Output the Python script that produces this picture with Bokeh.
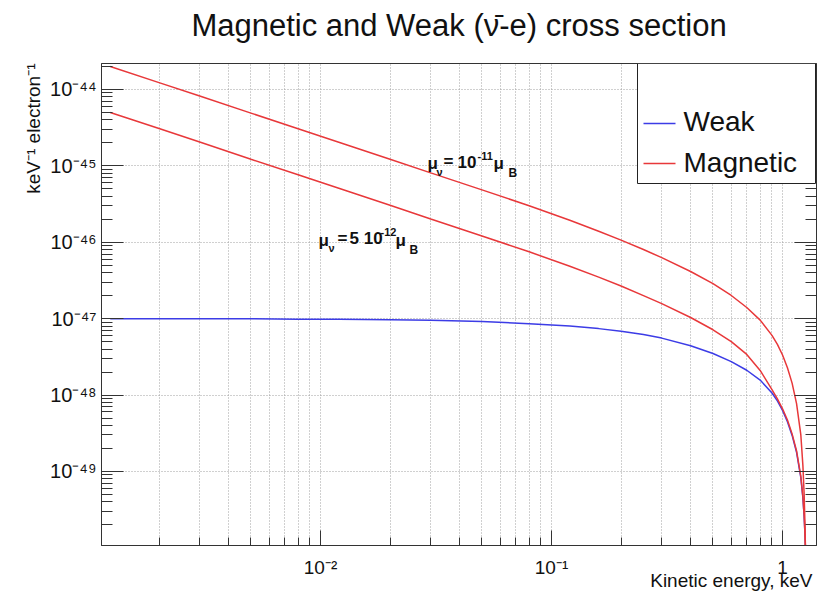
import math
from bokeh.plotting import figure
from bokeh.models import (FixedTicker, CustomJSTickFormatter, LogAxis, Label, Title,
                          Range1d, BoxAnnotation, ColumnDataSource)
from bokeh.embed import file_html
from bokeh.resources import INLINE

# ---------------- data ----------------
energy_keV = [0.00123, 0.002, 0.003, 0.005, 0.008, 0.012, 0.02, 0.03, 0.05, 0.08,
              0.12, 0.16, 0.2, 0.25, 0.3, 0.4, 0.5, 0.6, 0.7, 0.8, 0.9, 0.95,
              1.0, 1.05, 1.1, 1.15, 1.2, 1.225, 1.24, 1.25, 1.255, 1.26]
weak = [1.0e-47, 1.0e-47, 1.0e-47, 9.95e-48, 9.85e-48, 9.8e-48, 9.7e-48, 9.55e-48, 9.2e-48, 8.6e-48,
        8.0e-48, 7.4e-48, 6.86e-48, 6.2e-48, 5.56e-48, 4.42e-48, 3.5e-48, 2.74e-48, 2.11e-48, 1.57e-48, 1.064e-48, 8.38e-49,
        6.28e-49, 4.46e-49, 2.96e-49, 1.78e-49, 8.3e-50, 4.5e-50, 2.6e-50, 1.54e-50, 1.1e-50, 6e-51]
magnetic_mu_1e11 = [2.0e-44, 1.23e-44, 8.2e-45, 4.9e-45, 3.06e-45, 2.04e-45, 1.22e-45, 8.1e-46, 4.85e-46, 3.0e-46,
                    1.937e-46, 1.395e-46, 1.067e-46, 8.03e-47, 6.28e-47, 4.14e-47, 2.865e-47, 2.01e-47, 1.4e-47, 9.57e-48, 6.04e-48, 4.61e-48,
                    3.34e-48, 2.28e-48, 1.43e-48, 7.7e-49, 3.0e-49, 1.19e-49, 5.1e-50, 2.1e-50, 1.2e-50, 5e-51]
magnetic_mu_5e12 = [5.0e-45, 3.08e-45, 2.05e-45, 1.22e-45, 7.65e-46, 5.1e-46, 3.05e-46, 2.02e-46, 1.21e-46, 7.5e-47,
                    4.84e-47, 3.49e-47, 2.67e-47, 2.0e-47, 1.57e-47, 1.035e-47, 7.15e-48, 5.0e-48, 3.4e-48, 2.1e-48, 1.18e-48, 8.9e-49,
                    6.6e-49, 4.7e-49, 3.1e-49, 1.85e-49, 8.6e-50, 4.6e-50, 2.65e-50, 1.57e-50, 1.12e-50, 6e-51]

x_major_ticks = [1e-2, 1e-1, 1.0]
y_major_ticks = [1e-49, 1e-48, 1e-47, 1e-46, 1e-45, 1e-44]
legend_labels = ["Weak", "Magnetic"]
title_text = "Magnetic and Weak (\u03bd\u0304-e) cross section"
x_title = "Kinetic energy, keV"
y_title = "keV\u207b\u00b9 electron\u207b\u00b9"

# ---------------- layout ----------------
LX0, LX1 = -2.948, 0.147      # log10 of x range
LY0, LY1 = -49.97, -43.66     # log10 of y range
FL, FR, FT, FB = 101, 816, 63, 545   # frame edges in the picture (px)
W, H = 830, 600
FONT = "Liberation Sans"
INK = "#111111"
AX = "#333333"

def dx(px):
    return 10 ** (LX0 + (px - FL) / (FR - FL) * (LX1 - LX0))

def dy(py):
    return 10 ** (LY1 - (py - FT) / (FB - FT) * (LY1 - LY0))

p = figure(width=W, height=H, x_axis_type="log", y_axis_type="log",
           x_range=Range1d(10 ** LX0, 10 ** LX1), y_range=Range1d(10 ** LY0, 10 ** LY1),
           output_backend="svg", toolbar_location=None, title=None,
           min_border_left=FL, min_border_right=W - FR,
           min_border_top=FT, min_border_bottom=H - FB)
p.background_fill_color = "white"
p.border_fill_color = "white"
p.outline_line_color = AX
p.outline_line_width = 1

x_minor = [k * 10.0 ** e for e in (-3, -2, -1, 0) for k in range(2, 10)]
y_minor = [k * 10.0 ** e for e in range(-50, -43) for k in range(2, 10)]
xticker = FixedTicker(ticks=x_major_ticks, minor_ticks=x_minor)
yticker = FixedTicker(ticks=y_major_ticks, minor_ticks=y_minor)

fmt_code = """
const sup = {"-":"\u207b","0":"\u2070","1":"\u00b9","2":"\u00b2","3":"\u00b3","4":"\u2074",
             "5":"\u2075","6":"\u2076","7":"\u2077","8":"\u2078","9":"\u2079"};
const e = Math.round(Math.log10(tick));
if (e === 0) return "1";
return "10" + String(e).split("").map(c => sup[c]).join("");
"""
fmt = CustomJSTickFormatter(code=fmt_code)
blank_fmt = CustomJSTickFormatter(code="return '';")

xa = p.xaxis[0]
xa.ticker = xticker
xa.formatter = fmt
xa.major_tick_in = 15
xa.major_tick_out = 0
xa.minor_tick_in = 8
xa.minor_tick_out = 0
xa.major_label_standoff = 11
xa.major_label_text_font = FONT
xa.major_label_text_font_size = "19px"
xa.major_label_text_color = INK
xa.axis_line_color = AX
xa.major_tick_line_color = AX
xa.minor_tick_line_color = AX

ya = p.yaxis[0]
ya.ticker = yticker
ya.formatter = fmt
ya.major_tick_in = 22
ya.major_tick_out = 0
ya.minor_tick_in = 11
ya.minor_tick_out = 0
ya.major_label_standoff = 5
ya.major_label_text_font = FONT
ya.major_label_text_font_size = "20px"
ya.major_label_text_color = INK
ya.axis_line_color = AX
ya.major_tick_line_color = AX
ya.minor_tick_line_color = AX

ra = LogAxis(ticker=yticker, formatter=blank_fmt,
             major_tick_in=22, major_tick_out=0, minor_tick_in=11, minor_tick_out=0,
             major_label_standoff=0, major_label_text_font_size="0px",
             axis_line_color=AX, major_tick_line_color=AX, minor_tick_line_color=AX)
p.add_layout(ra, "right")

# invisible spacer axis between the frame and the main title
spacer = LogAxis(ticker=FixedTicker(ticks=[0.1], minor_ticks=[]), formatter=blank_fmt,
                 major_tick_in=0, major_tick_out=21,
                 minor_tick_in=0, minor_tick_out=0, major_label_standoff=0,
                 major_label_text_font_size="0px", axis_line_color=None,
                 major_tick_line_color=None, minor_tick_line_color=None)
p.add_layout(spacer, "above")

p.xgrid.ticker = xticker
p.ygrid.ticker = yticker
for g in (p.xgrid[0], p.ygrid[0]):
    g.grid_line_color = "#a0a0a0"
    g.grid_line_dash = "1 2"
    g.grid_line_width = 1
p.xgrid.minor_grid_line_color = "#a0a0a0"
p.xgrid.minor_grid_line_dash = "1 2"
p.ygrid.minor_grid_line_color = None

# titles
p.add_layout(Title(text=title_text, align="center", vertical_align="bottom",
                   text_font=FONT, text_font_size="31px",
                   text_font_style="normal", text_color=INK, standoff=0), "above")
p.add_layout(Title(text=x_title, align="right", vertical_align="top", offset=4,
                   text_font=FONT, text_font_size="19px",
                   text_font_style="normal", text_color=INK, standoff=-22), "below")
p.add_layout(Title(text=y_title, align="right", text_font=FONT, text_font_size="19px",
                   text_font_style="normal", text_color=INK, standoff=8), "left")

src = ColumnDataSource(dict(energy=energy_keV, weak=weak,
                            mag1=magnetic_mu_1e11, mag2=magnetic_mu_5e12))
RED = "#e8383a"
BLUE = "#3c3ce6"
p.line("energy", "weak", source=src, line_color=BLUE, line_width=1.5)
p.line("energy", "mag1", source=src, line_color=RED, line_width=1.5)
p.line("energy", "mag2", source=src, line_color=RED, line_width=1.5)


def add_text(text, px, py, size, align="left", bold=False):
    p.add_layout(Label(x=dx(px), y=dy(py), text=text, text_font=FONT,
                       text_font_size=f"{size}px", text_align=align,
                       text_baseline="middle",
                       text_font_style="bold" if bold else "normal",
                       text_color=INK))


# curve annotations (py = vertical centre of the glyphs)
add_text("\u03bc", 427, 163, 17, bold=True)
add_text("\u03bd", 436, 171, 11, bold=True)
add_text("=", 443, 161, 17, bold=True)
add_text("10", 457, 161, 17, bold=True)
add_text("-11", 477, 155, 11, bold=True)
add_text("\u03bc", 493, 163, 17, bold=True)
add_text("B", 508, 172, 12, bold=True)

add_text("\u03bc", 318, 240, 17, bold=True)
add_text("\u03bd", 328, 247, 11, bold=True)
add_text("=", 337, 238, 17, bold=True)
add_text("5 10", 349, 238, 17, bold=True)
add_text("-12", 380, 231, 11, bold=True)
add_text("\u03bc", 395, 240, 17, bold=True)
add_text("B", 409, 249, 12, bold=True)

# legend
p.add_layout(BoxAnnotation(left=dx(637), right=dx(815), top=dy(63), bottom=dy(183),
                           fill_color="white", fill_alpha=1.0,
                           line_color="#222222", line_width=1, line_alpha=1.0))
leg = ColumnDataSource(dict(x0=[dx(643), dx(643)], x1=[dx(675), dx(675)],
                            y=[dy(123), dy(163)], c=[BLUE, RED]))
p.segment(x0="x0", y0="y", x1="x1", y1="y", color="c", line_width=1.5,
          source=leg, level="overlay")
add_text(legend_labels[0], 683, 121, 28)
add_text(legend_labels[1], 683, 162, 28)

open("out.html", "w").write(file_html(p, INLINE))
